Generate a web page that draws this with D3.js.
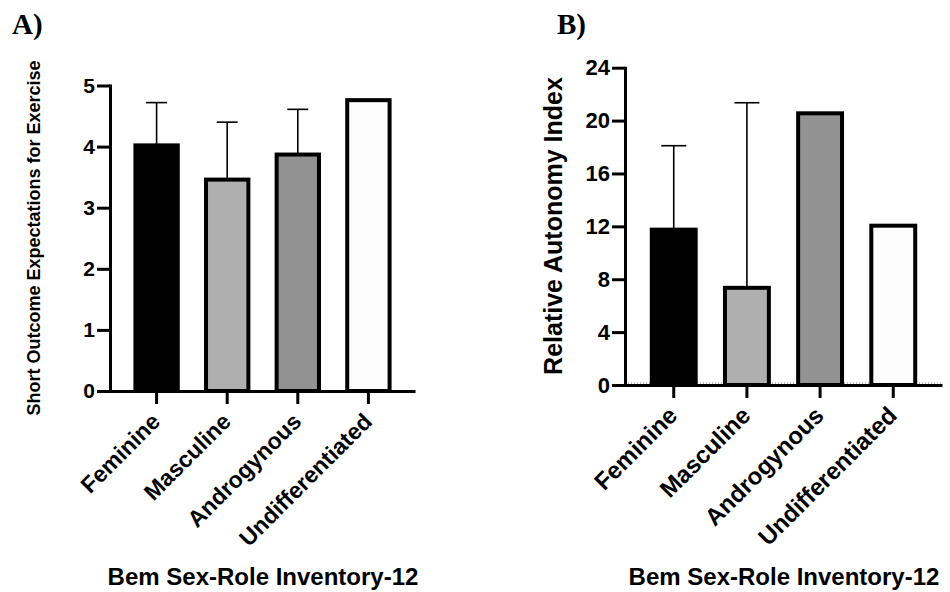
<!DOCTYPE html>
<html>
<head>
<meta charset="utf-8">
<script src="https://cdn.jsdelivr.net/npm/d3@7/dist/d3.min.js"></script>
<style>
  html, body { margin: 0; padding: 0; background: #fff; }
  svg { display: block; }
  text { font-family: Arial, "Liberation Sans", Helvetica, sans-serif; font-weight: 700; fill: #000; }
</style>
</head>
<body>
<svg id="chart" width="950" height="592"></svg>
<script>
// ---- data ----
const categories = ["Feminine", "Masculine", "Androgynous", "Undifferentiated"];
const barColors = ["#000000", "#afafaf", "#929292", "#fcfcfc"];

const panelATitle = "A)";
const panelAYLabel = "Short Outcome Expectations for Exercise";
const panelAMeans = [4.02, 3.46, 3.87, 4.76];
const panelAErrors = [0.70, 0.94, 0.74, 0];
const panelATicks = [0, 1, 2, 3, 4, 5];

const panelBTitle = "B)";
const panelBYLabel = "Relative Autonomy Index";
const panelBMeans = [11.75, 7.35, 20.55, 12.05];
const panelBErrors = [6.35, 14.0, 0, 0];
const panelBTicks = [0, 4, 8, 12, 16, 20, 24];

const xAxisTitle = "Bem Sex-Role Inventory-12";

// ---- drawing ----
const svg = d3.select("#chart");
const SANS = "Arial, 'Liberation Sans', Helvetica, sans-serif";

function panel(cfg) {
  const g = svg.append("g");
  const y = d3.scaleLinear().domain([0, cfg.ymax]).range([cfg.y0, cfg.y1]);
  const x = d3.scaleBand().domain(categories).range([cfg.x0, cfg.x1])
    .paddingInner(cfg.pi).paddingOuter(cfg.po);

  // panel letter
  g.append("text").attr("x", cfg.letterX).attr("y", 34)
    .style("font-family", "'Times New Roman', 'Liberation Serif', serif")
    .style("font-size", "29px").text(cfg.letter);

  if (cfg.dotted) {
    g.append("line").attr("x1", cfg.x0).attr("x2", cfg.x1)
      .attr("y1", y(0) - 2).attr("y2", y(0) - 2)
      .attr("stroke", "#777").attr("stroke-width", 1).attr("stroke-dasharray", "1,2");
  }

  const data = categories.map((c, i) => ({ c, m: cfg.means[i], e: cfg.errs[i], col: barColors[i] }));

  // error bars (drawn first so bar covers the stem)
  const eb = g.selectAll(".eb").data(data.filter(d => d.e > 0)).enter().append("g");
  eb.append("line")
    .attr("x1", d => x(d.c) + x.bandwidth() / 2).attr("x2", d => x(d.c) + x.bandwidth() / 2)
    .attr("y1", d => y(d.m)).attr("y2", d => y(d.m + d.e))
    .attr("stroke", "#000").attr("stroke-width", 1.6);
  eb.append("line")
    .attr("x1", d => x(d.c) + x.bandwidth() / 2 - cfg.cap / 2)
    .attr("x2", d => x(d.c) + x.bandwidth() / 2 + cfg.cap / 2)
    .attr("y1", d => y(d.m + d.e)).attr("y2", d => y(d.m + d.e))
    .attr("stroke", "#000").attr("stroke-width", 1.6);

  // bars
  g.selectAll(".bar").data(data).enter().append("rect")
    .attr("x", d => x(d.c)).attr("width", x.bandwidth())
    .attr("y", d => y(d.m)).attr("height", d => y(0) - y(d.m))
    .attr("fill", d => d.col).attr("stroke", "#000").attr("stroke-width", 4);

  // y axis
  const ya = g.append("g").attr("transform", `translate(${cfg.x0},0)`)
    .call(d3.axisLeft(y).tickValues(cfg.ticks).tickFormat(d3.format("d"))
      .tickSize(13).tickSizeOuter(0).tickPadding(2));
  ya.attr("font-family", null);
  ya.select(".domain").attr("stroke-width", 3).attr("stroke-linecap", "square");
  ya.selectAll(".tick line").attr("stroke-width", 3);
  ya.selectAll(".tick text").style("font-size", cfg.tickFont + "px")
    .style("font-family", SANS).style("font-weight", "700");

  // x axis
  const xa = g.append("g").attr("transform", `translate(0,${cfg.y0})`)
    .call(d3.axisBottom(x).tickSize(13).tickSizeOuter(0).tickFormat(""));
  xa.select(".domain").attr("stroke-width", 3);
  xa.selectAll(".tick line").attr("stroke-width", 3);

  // rotated category labels
  g.selectAll(".xl").data(categories).enter().append("text")
    .attr("text-anchor", "end")
    .attr("transform", d => `translate(${x(d) + x.bandwidth() / 2 + cfg.lblDx},${cfg.y0 + cfg.lblDy}) rotate(-45)`)
    .style("font-size", cfg.lblFont + "px").text(d => d);

  // y title
  g.append("text").attr("text-anchor", "middle")
    .attr("transform", `translate(${cfg.ytX},${cfg.ytY}) rotate(-90)`)
    .style("font-size", cfg.ytFont + "px").text(cfg.ylabel);

  // x title
  g.append("text").attr("text-anchor", "middle").attr("x", cfg.xtX).attr("y", 585)
    .style("font-size", "24px").text(xAxisTitle);
}

panel({
  letter: panelATitle, letterX: 12, means: panelAMeans, errs: panelAErrors, ticks: panelATicks,
  ymax: 5, y0: 391, y1: 85.5, x0: 110, x1: 415, pi: 0.4, po: 0.36, cap: 21,
  tickFont: 21, lblFont: 23, lblDx: 5, lblDy: 32, ylabel: panelAYLabel, ytX: 40, ytY: 238, ytFont: 18,
  xtX: 263, dotted: false
});

panel({
  letter: panelBTitle, letterX: 557, means: panelBMeans, errs: panelBErrors, ticks: panelBTicks,
  ymax: 24, y0: 385, y1: 67.7, x0: 625, x1: 942, pi: 0.4, po: 0.366, cap: 25,
  tickFont: 22, lblFont: 24, lblDx: 5, lblDy: 32, ylabel: panelBYLabel, ytX: 562, ytY: 226, ytFont: 25,
  xtX: 784, dotted: true
});
</script>
</body>
</html>
